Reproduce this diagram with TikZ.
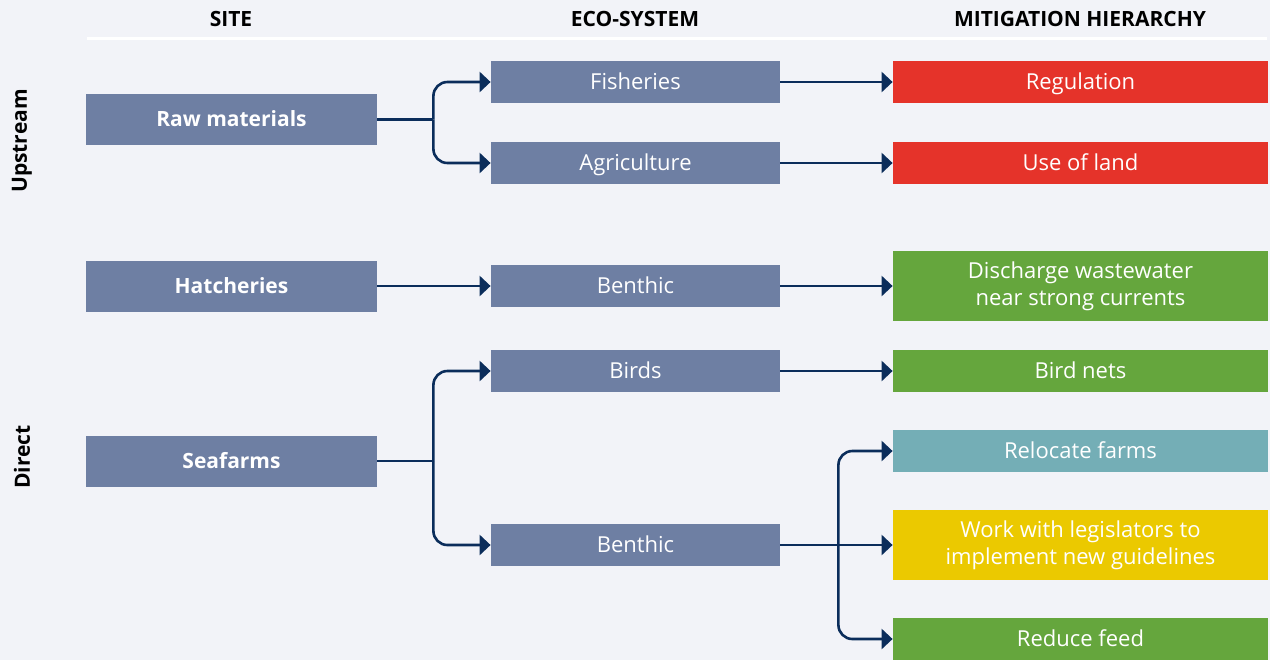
\documentclass[tikz,border=0pt]{standalone}
\usepackage{fontspec}
\setmainfont{Open Sans}
\usetikzlibrary{positioning,arrows.meta}
\definecolor{bg}{HTML}{F2F3F8}
\definecolor{ink}{HTML}{0B2D5B}
\definecolor{cBox}{HTML}{6E7FA3}
\definecolor{cRed}{HTML}{E5332A}
\definecolor{cGreen}{HTML}{65A63D}
\definecolor{cTeal}{HTML}{74AEB6}
\definecolor{cYellow}{HTML}{EBC900}
\newcommand{\fs}{\fontsize{10.5pt}{13.5pt}\selectfont}
\newcommand{\fl}{\fontsize{11pt}{13.5pt}\selectfont}

\begin{document}
\begin{tikzpicture}[
  x=0.5pt, y=-0.5pt,
  >={Triangle[length=5.5pt, width=10pt]},
  link/.style={draw=ink, line width=1.3pt},
  flow/.style={link, rounded corners=7pt, ->},
  head/.style={font=\fs\bfseries, text=black},
  side/.style={font=\fs\bfseries, text=black, rotate=90},
  oneline/.style={text height=8.6pt, text depth=1.4pt},
  site/.style={fill=cBox, text=white, font=\fs\bfseries, oneline, minimum width=145.5pt, minimum height=25.5pt, inner sep=0pt},
  eco/.style={fill=cBox, text=white, font=\fl, oneline, minimum width=144.5pt, minimum height=21pt, inner sep=0pt},
  mit/.style={text=white, font=\fl, align=center, minimum width=187.5pt, minimum height=21pt, inner sep=0pt},
]

% ---- canvas ----
\fill[bg] (0,0) rectangle (1270,660);
\useasboundingbox (0,0) rectangle (1270,660);

% ---- column heads ----
\node[head] (hSITE) at (231,19) {SITE};
\node[head] (hECO) at (635,19) {ECO-SYSTEM};
\node[head] (hMIT) at (1080,19) {MITIGATION HIERARCHY};
\coordinate (ruleL) at (87,38);
\coordinate (ruleR) at (1267,38);
\draw[white, line width=1.5pt] (ruleL) -- (ruleR);

% ---- row labels ----
\node[side] (UP) at (22,141) {Upstream};
\node[side] (DIR) at (22,457) {Direct};

% ---- site ----
\node[site] (RAW) at (231.5,119.5) {Raw materials};
\node[site] (HATCH) at (231.5,286) {Hatcheries};
\node[site] (SEA) at (231.5,461) {Seafarms};

% ---- eco-system ----
\node[eco] (FISH) at (635.5,82) {Fisheries};
\node[eco] (AGRI) at (635.5,163) {Agriculture};
\node[eco] (BEN1) at (635.5,286) {Benthic};
\node[eco] (BIRD) at (635.5,371) {Birds};
\node[eco] (BEN2) at (635.5,545) {Benthic};

% ---- mitigation ----
\node[mit, oneline, fill=cRed] (REG) at (1080.5,82) {Regulation};
\node[mit, oneline, fill=cRed] (LAND) at (1080.5,163) {Use of land};
\node[mit, fill=cGreen, minimum height=35pt] (DISCH) at (1080.5,286) {Discharge wastewater\\near strong currents};
\node[mit, oneline, fill=cGreen] (NETS) at (1080.5,371) {Bird nets};
\node[mit, oneline, fill=cTeal] (RELOC) at (1080.5,451) {Relocate farms};
\node[mit, fill=cYellow, minimum height=35pt] (LEGIS) at (1080.5,545) {Work with legislators to\\implement new guidelines};
\node[mit, oneline, fill=cGreen] (FEED) at (1080.5,639) {Reduce feed};

% ---- connectors ----
\coordinate[right=28pt of RAW.east] (rawfork);
\draw[link] (RAW.east) -- (rawfork);
\draw[flow] (rawfork) |- (FISH.west);
\draw[flow] (rawfork) |- (AGRI.west);

\draw[flow] (HATCH.east) -- (BEN1.west);

\coordinate[right=28pt of SEA.east] (seafork);
\draw[link] (SEA.east) -- (seafork);
\draw[flow] (seafork) |- (BIRD.west);
\draw[flow] (seafork) |- (BEN2.west);

\draw[flow] (FISH.east) -- (REG.west);
\draw[flow] (AGRI.east) -- (LAND.west);
\draw[flow] (BEN1.east) -- (DISCH.west);
\draw[flow] (BIRD.east) -- (NETS.west);

\coordinate[right=29pt of BEN2.east] (benfork);
\draw[flow] (BEN2.east) -- (LEGIS.west);
\draw[flow] (benfork) |- (RELOC.west);
\draw[flow] (benfork) |- (FEED.west);

\end{tikzpicture}
\end{document}
